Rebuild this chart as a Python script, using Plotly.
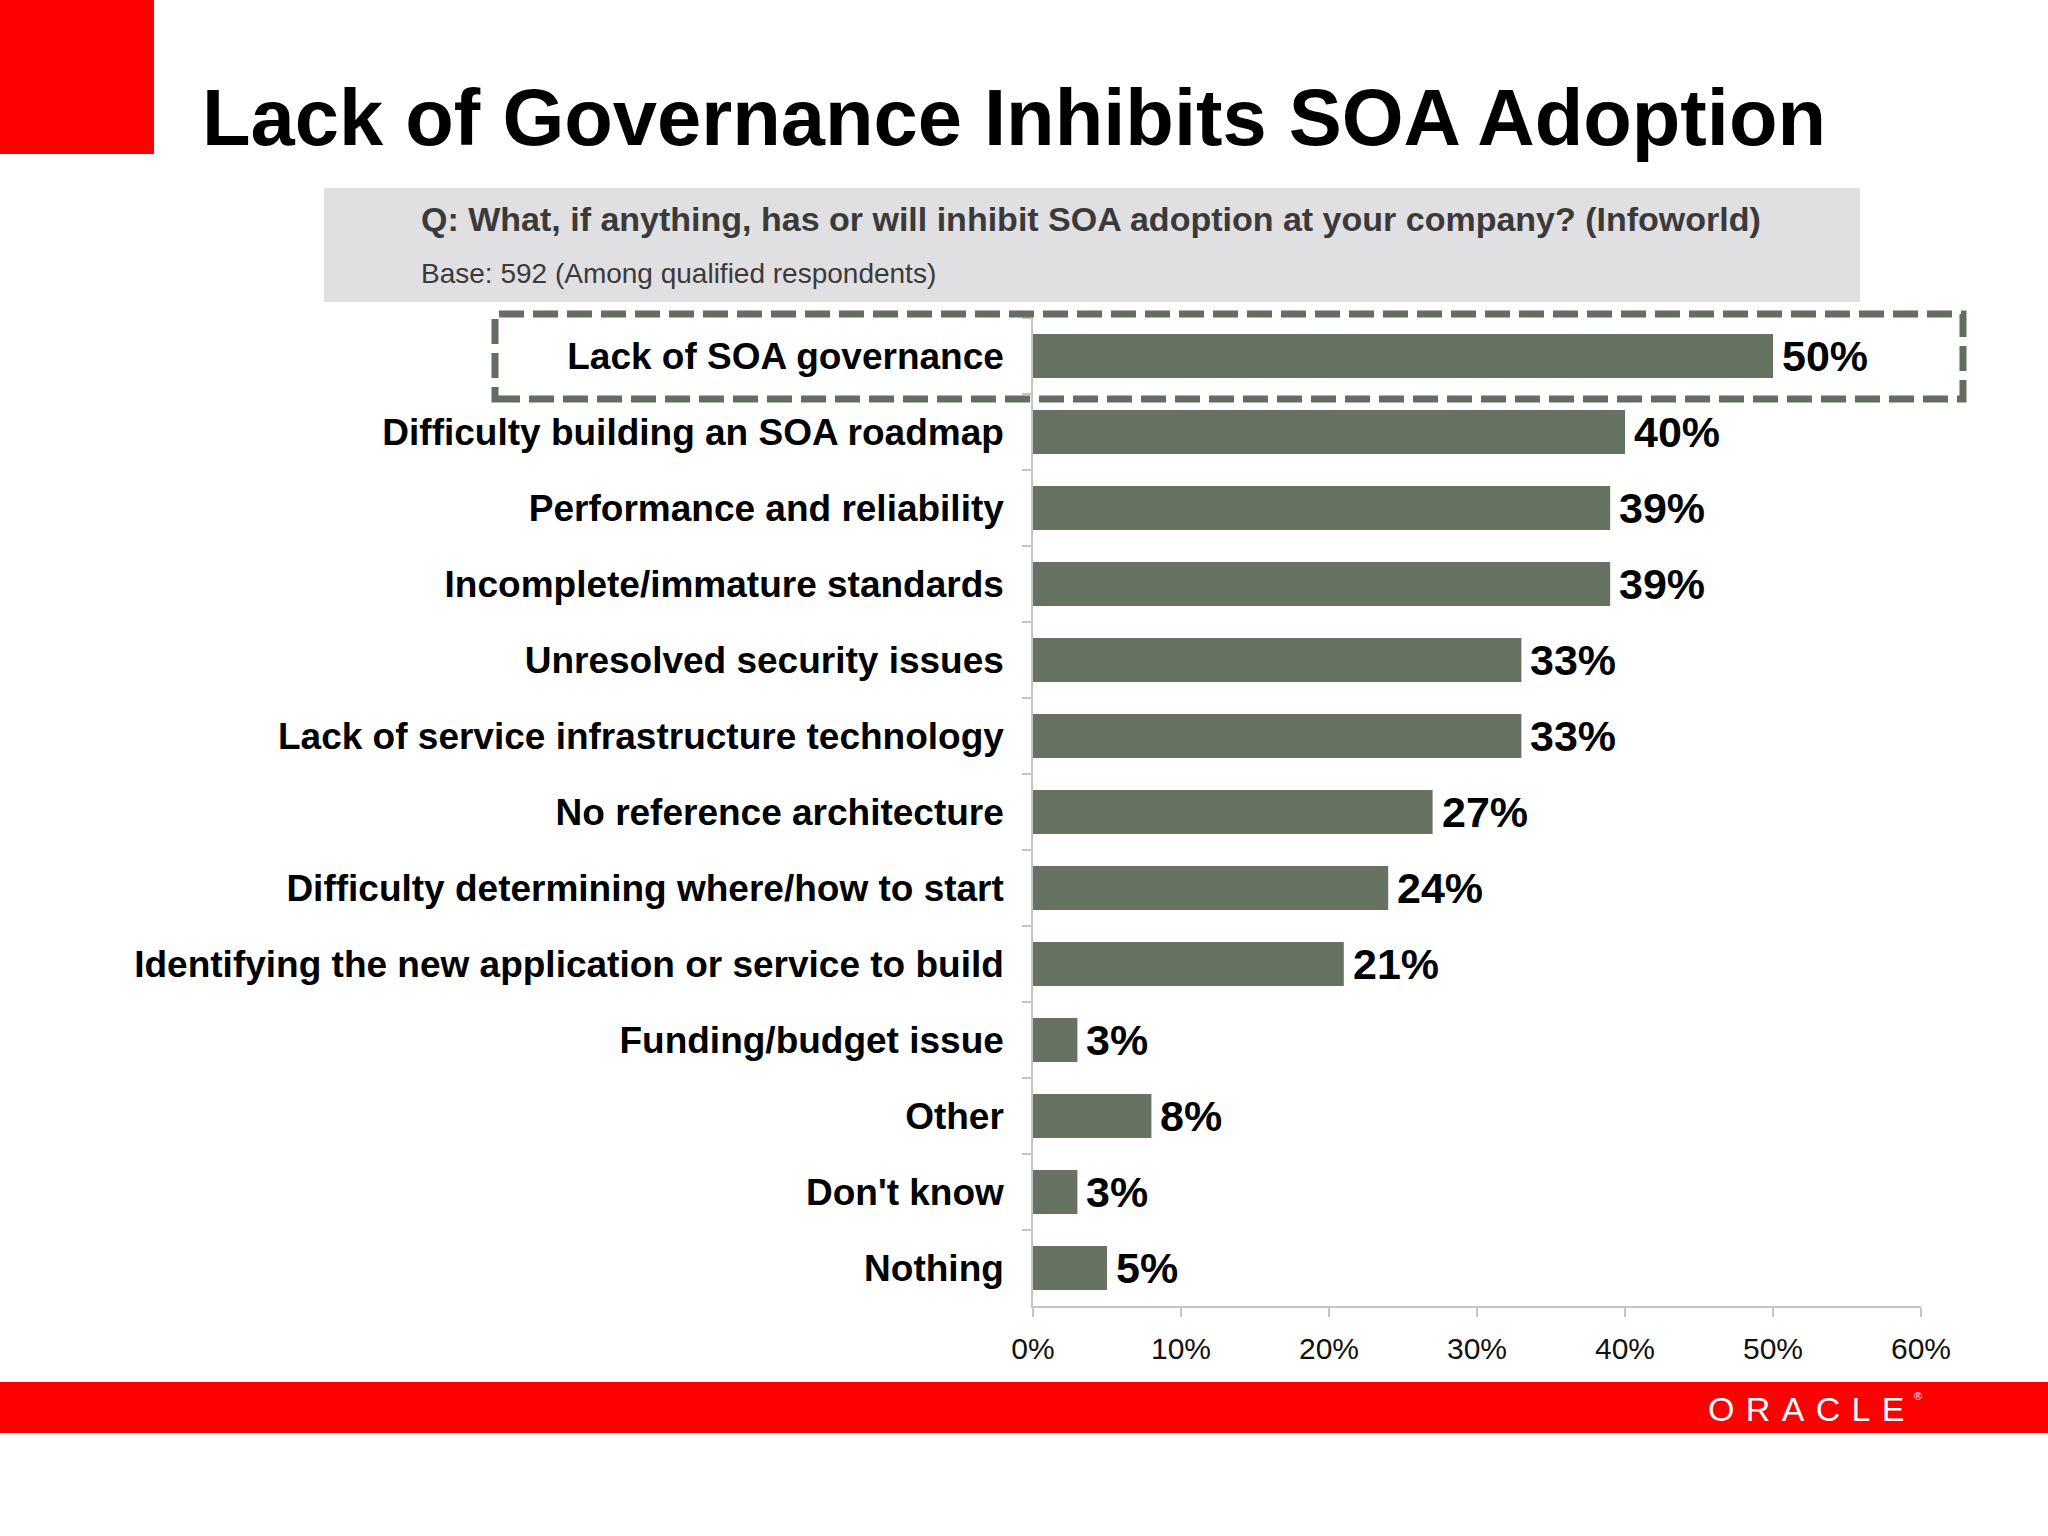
import plotly.graph_objects as go

# ---- data ----
categories = [
    "Lack of SOA governance",
    "Difficulty building an SOA roadmap",
    "Performance and reliability",
    "Incomplete/immature standards",
    "Unresolved security issues",
    "Lack of service infrastructure technology",
    "No reference architecture",
    "Difficulty determining where/how to start",
    "Identifying the new application or service to build",
    "Funding/budget issue",
    "Other",
    "Don't know",
    "Nothing",
]
values = [50, 40, 39, 39, 33, 33, 27, 24, 21, 3, 8, 3, 5]
x_ticks = [0, 10, 20, 30, 40, 50, 60]
x_tick_labels = ["0%", "10%", "20%", "30%", "40%", "50%", "60%"]

title_text = "Lack of Governance Inhibits SOA Adoption"
question_text = "Q: What, if anything, has or will inhibit SOA adoption at your company? (Infoworld)"
base_text = "Base: 592 (Among qualified respondents)"
logo_text = "\u2004".join("ORACLE")

W, H = 2048, 1536
FONT = "Liberation Sans, Arial, sans-serif"
BAR_COLOR = "#677262"
AXIS_COLOR = "#c4c4c4"


def px(x):
    return x / W


def py(y):
    return 1 - y / H


fig = go.Figure()
fig.add_trace(go.Bar(
    x=values,
    y=categories,
    orientation="h",
    marker=dict(color=BAR_COLOR, line=dict(width=0)),
    hoverinfo="x+y",
))

annotations = []
for c, v in zip(categories, values):
    annotations.append(dict(
        x=v, y=c, xref="x", yref="y", text=f"{v}%", showarrow=False,
        xanchor="left", yanchor="middle", xshift=7,
        font=dict(family=FONT, size=43, color="#000000", weight="bold"),
    ))

# Title and header texts
annotations += [
    dict(x=px(200), y=py(118), xref="paper", yref="paper", text=title_text,
         showarrow=False, xanchor="left", yanchor="middle",
         font=dict(family=FONT, size=79.5, color="#000000", weight="bold")),
    dict(x=px(419), y=py(219), xref="paper", yref="paper", text=question_text,
         showarrow=False, xanchor="left", yanchor="middle",
         font=dict(family=FONT, size=34, color="#3a3a3a", weight="bold")),
    dict(x=px(419), y=py(274), xref="paper", yref="paper", text=base_text,
         showarrow=False, xanchor="left", yanchor="middle",
         font=dict(family=FONT, size=28, color="#3a3a3a")),
    dict(x=px(1706), y=py(1409), xref="paper", yref="paper", text=logo_text,
         showarrow=False, xanchor="left", yanchor="middle",
         font=dict(family=FONT, size=34, color="#ffffff")),
    dict(x=px(1912), y=py(1396), xref="paper", yref="paper", text="®",
         showarrow=False, xanchor="left", yanchor="middle",
         font=dict(family=FONT, size=11, color="#ffffff")),
]

shapes = [
    # red square top-left
    dict(type="rect", xref="paper", yref="paper", x0=0, x1=px(154), y0=py(154), y1=1,
         fillcolor="#ff0000", line=dict(width=0), layer="below"),
    # grey question box
    dict(type="rect", xref="paper", yref="paper", x0=px(324), x1=px(1860), y0=py(302), y1=py(188),
         fillcolor="#e0dfe1", line=dict(width=0), layer="below"),
    # red bottom band
    dict(type="rect", xref="paper", yref="paper", x0=0, x1=1, y0=py(1433), y1=py(1382),
         fillcolor="#ff0000", line=dict(width=0), layer="below"),
    # dashed highlight box
    dict(type="rect", xref="paper", yref="paper", x0=px(495), x1=px(1963), y0=py(399), y1=py(314),
         fillcolor="rgba(0,0,0,0)", line=dict(color="#656d60", width=7, dash="25px,9px"),
         layer="above"),
]

fig.update_layout(
    width=W, height=H,
    margin=dict(l=0, r=0, t=0, b=0, autoexpand=False),
    paper_bgcolor="#ffffff",
    plot_bgcolor="#ffffff",
    showlegend=False,
    bargap=0.42,
    font=dict(family=FONT, color="#000000"),
    annotations=annotations,
    shapes=shapes,
    xaxis=dict(
        domain=[px(1033), px(1921)],
        range=[0, 60],
        tickvals=x_ticks,
        ticktext=x_tick_labels,
        showgrid=False, zeroline=False, automargin=False,
        showline=True, linecolor=AXIS_COLOR, linewidth=1.5,
        ticks="outside", ticklen=9, tickcolor=AXIS_COLOR, tickwidth=1.5,
        ticklabelstandoff=6,
        tickfont=dict(family=FONT, size=30, color="#111111"),
        fixedrange=True,
    ),
    yaxis=dict(
        domain=[py(1306), py(318)],
        categoryorder="array",
        categoryarray=categories,
        autorange="reversed",
        showgrid=False, zeroline=False, automargin=False,
        showline=True, linecolor=AXIS_COLOR, linewidth=1.5,
        ticks="outside", tickson="boundaries", ticklen=9,
        tickcolor=AXIS_COLOR, tickwidth=1.5,
        ticklabelstandoff=20,
        tickfont=dict(family=FONT, size=37, color="#000000", weight="bold"),
        fixedrange=True,
    ),
)

fig.write_html(
    "out.html",
    config={"displayModeBar": False},
    post_script="document.body.style.margin='0';document.body.style.overflow='hidden';",
)
